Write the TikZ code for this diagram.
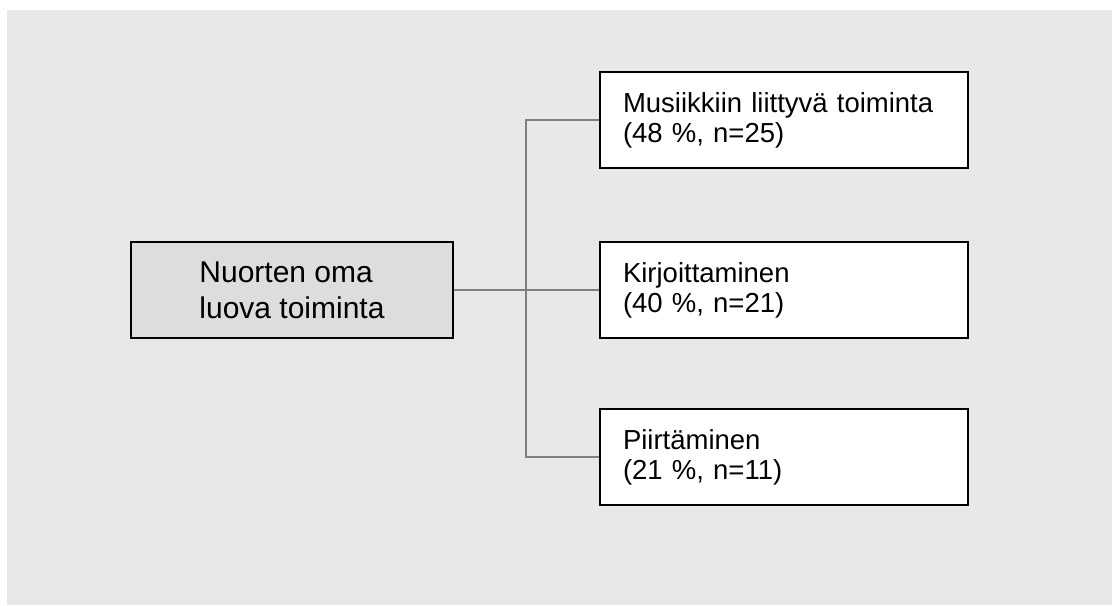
\documentclass[tikz,border=0pt]{standalone}
\usepackage{fontspec}
\setmainfont{Liberation Sans}
\usepackage{tikz}
\usetikzlibrary{positioning,calc}
\definecolor{PageGray}{HTML}{E8E8E8}
\definecolor{MainFill}{HTML}{DDDDDD}
\definecolor{LineGray}{HTML}{808080}

\begin{document}
\begin{tikzpicture}[x=0.5pt, y=-0.5pt,
  mainbox/.style={draw=black, fill=MainFill, line width=1pt,
    minimum width=161pt, minimum height=48pt, align=left,
    font=\fontsize{15}{18}\selectfont},
  catbox/.style={draw=black, fill=white, line width=1pt,
    text width=161pt, inner xsep=11.5pt, minimum height=48pt, align=left,
    font=\fontsize{13.75}{15}\selectfont},
  conn/.style={draw=LineGray, line width=1pt}]
  \useasboundingbox (0,0) rectangle (1112,605);
  \fill[PageGray] (7,10) rectangle (1112,605);
  \node[mainbox] (oma) at (292,290) {Nuorten oma\\luova toiminta};
  \node[catbox] (musa) at (784,120) {Musiikkiin liittyvä toiminta\\(48~\%, n=25)};
  \node[catbox] (kirj) at (784,290) {Kirjoittaminen\\(40~\%, n=21)};
  \node[catbox] (piir) at (784,457) {Piirtäminen\\(21~\%, n=11)};
  \coordinate (split) at (526,290);
  \draw[conn] (oma.east) -- (kirj.west);
  \draw[conn] (musa.west) -| (split) |- (piir.west);
\end{tikzpicture}
\end{document}
